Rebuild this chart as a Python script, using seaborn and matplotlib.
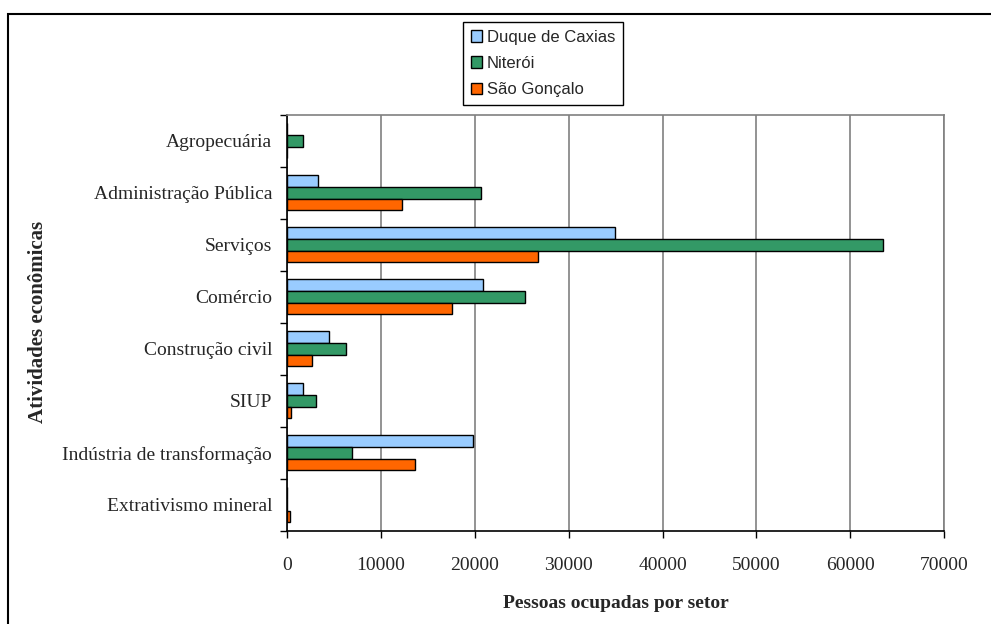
import matplotlib
matplotlib.use("Agg")
import matplotlib.pyplot as plt
import seaborn as sns
import pandas as pd
from matplotlib.patches import Rectangle

categories = ["Agropecuária", "Administração Pública", "Serviços", "Comércio",
              "Construção civil", "SIUP", "Indústria de transformação",
              "Extrativismo mineral"]
series_names = ["Duque de Caxias", "Niterói", "São Gonçalo"]
duque_de_caxias = [0, 3250, 34900, 20850, 4400, 1680, 19800, 0]
niteroi = [1700, 20600, 63500, 25350, 6300, 3100, 6850, 0]
sao_goncalo = [0, 12200, 26700, 17600, 2650, 430, 13600, 320]
x_ticks = [0, 10000, 20000, 30000, 40000, 50000, 60000, 70000]
colors = ["#99CCFF", "#339966", "#FF6600"]

rows = []
for name, vals in zip(series_names, [duque_de_caxias, niteroi, sao_goncalo]):
    for c, v in zip(categories, vals):
        rows.append({"Atividade": c, "Município": name, "Pessoas": v})
df = pd.DataFrame(rows)

sns.set_theme(style="white")
plt.rcParams["font.family"] = ["Liberation Serif", "DejaVu Serif"]

fig = plt.figure(figsize=(9.91, 6.24), dpi=100)
W, H = 991, 624
ax = fig.add_axes([287.3 / W, 1 - 530.7 / H, (944 - 287.3) / W, (530.7 - 114.7) / H])

sns.barplot(data=df, y="Atividade", x="Pessoas", hue="Município", order=categories,
            hue_order=series_names, palette=dict(zip(series_names, colors)),
            orient="h", width=0.68, saturation=1, edgecolor="black", linewidth=1,
            ax=ax, errorbar=None, zorder=3)

ax.set_xlim(0, 70000)
ax.set_ylim(len(categories) - 0.5, -0.5)
ax.set_xticks(x_ticks)
ax.set_xticklabels([str(t) for t in x_ticks], fontsize=14)
ax.grid(axis="x", color="#808080", linewidth=1.2, zorder=0)
ax.grid(axis="y", visible=False)
ax.set_axisbelow(True)

ax.tick_params(axis="x", which="major", direction="out", length=5, width=1,
               color="black", pad=14, bottom=True)
ax.tick_params(axis="y", which="major", length=0, pad=11, labelsize=14)
ax.set_yticks([i + 0.5 for i in range(-1, len(categories))], minor=True)
ax.tick_params(axis="y", which="minor", direction="out", length=5, width=1,
               color="black", left=True)

for side in ["top", "right"]:
    ax.spines[side].set_color("#808080")
    ax.spines[side].set_linewidth(1.2)
for side in ["left", "bottom"]:
    ax.spines[side].set_color("black")
    ax.spines[side].set_linewidth(1.2)

ax.set_xlabel("")
ax.set_ylabel("")
fig.text(615.6 / W, 1 - 604 / H, "Pessoas ocupadas por setor", ha="center", va="center",
         fontsize=14, fontweight="bold")
fig.text(38 / W, 1 - 322 / H, "Atividades econômicas", ha="center", va="center",
         rotation=90, fontsize=15, fontweight="bold")

handles, labels = ax.get_legend_handles_labels()
ax.get_legend().remove()
leg = fig.legend(handles, labels, loc="upper left", bbox_to_anchor=(463.3 / W, 1 - 22.3 / H),
                 bbox_transform=fig.transFigure, frameon=True, fancybox=False,
                 edgecolor="black", framealpha=1, borderpad=0.45, borderaxespad=0,
                 labelspacing=0.68, handlelength=0.7, handleheight=0.7, handletextpad=0.25,
                 prop={"family": "Liberation Sans", "size": 12})
leg.get_frame().set_linewidth(1)

fig.patches.append(Rectangle((7.5 / W, -0.1), 1.2, 1.1 - 14 / H, transform=fig.transFigure,
                             fill=False, edgecolor="black", linewidth=1.5))

fig.savefig("out.png", dpi=100)
